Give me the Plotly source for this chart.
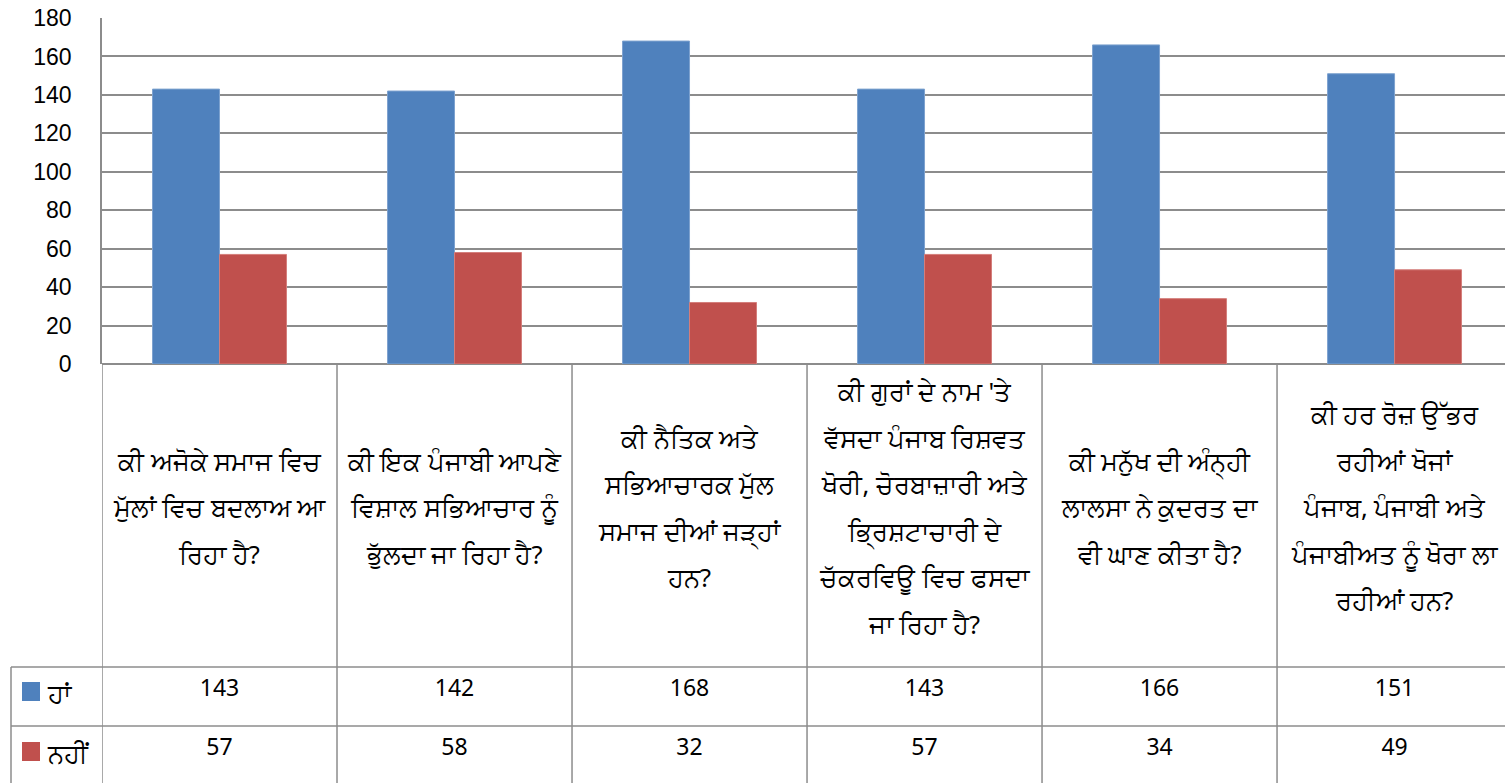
import plotly.graph_objects as go

# ── Data ──────────────────────────────────────────────────────────────────────
QUESTIONS = [
    "ਕੀ ਅਜੋਕੇ ਸਮਾਜ ਵਿਚ<br>ਮੁੱਲਾਂ ਵਿਚ ਬਦਲਾਅ ਆ<br>ਰਿਹਾ ਹੈ?",
    "ਕੀ ਇਕ ਪੰਜਾਬੀ ਆਪਣੇ<br>ਵਿਸ਼ਾਲ ਸਭਿਆਚਾਰ ਨੂੰ<br>ਭੁੱਲਦਾ ਜਾ ਰਿਹਾ ਹੈ?",
    "ਕੀ ਨੈਤਿਕ ਅਤੇ<br>ਸਭਿਆਚਾਰਕ ਮੁੱਲ<br>ਸਮਾਜ ਦੀਆਂ ਜੜ੍ਹਾਂ<br>ਹਨ?",
    "ਕੀ ਗੁਰਾਂ ਦੇ ਨਾਮ 'ਤੇ<br>ਵੱਸਦਾ ਪੰਜਾਬ ਰਿਸ਼ਵਤ<br>ਖੋਰੀ, ਚੋਰਬਾਜ਼ਾਰੀ ਅਤੇ<br>ਭ੍ਰਿਸ਼ਟਾਚਾਰੀ ਦੇ<br>ਚੱਕਰਵਿਊ ਵਿਚ ਫਸਦਾ<br>ਜਾ ਰਿਹਾ ਹੈ?",
    "ਕੀ ਮਨੁੱਖ ਦੀ ਅੰਨ੍ਹੀ<br>ਲਾਲਸਾ ਨੇ ਕੁਦਰਤ ਦਾ<br>ਵੀ ਘਾਣ ਕੀਤਾ ਹੈ?",
    "ਕੀ ਹਰ ਰੋਜ਼ ਉੱਭਰ<br>ਰਹੀਆਂ ਖੋਜਾਂ<br>ਪੰਜਾਬ, ਪੰਜਾਬੀ ਅਤੇ<br>ਪੰਜਾਬੀਅਤ ਨੂੰ ਖੋਰਾ ਲਾ<br>ਰਹੀਆਂ ਹਨ?",
]
SERIES_NAMES = ["ਹਾਂ", "ਨਹੀਂ"]
YES_VALUES = [143, 142, 168, 143, 166, 151]
NO_VALUES = [57, 58, 32, 57, 34, 49]
Y_TICKS = [0, 20, 40, 60, 80, 100, 120, 140, 160, 180]

# ── Style ─────────────────────────────────────────────────────────────────────
BLUE = "#4F81BD"
RED = "#C0504D"
GRID = "#8C8C8C"
FONT = "Noto Sans, Arial, sans-serif"

W, H = 1505, 783
PLOT_LEFT, PLOT_TOP = 102, 18
PLOT_W = W - PLOT_LEFT
PLOT_H = H - PLOT_TOP
TABLE_TOP = 364          # pixel row of the value axis zero / table top
ROW_LINES = (667, 726)   # pixel rows of the table's horizontal rules
ROW_TEXT = (690, 749)    # pixel rows of the value rows' text
HEADER_MID, HEADER_STEP = 511, 46.5


def py(y_px):
    """Pixel row -> paper y (plot area relative)."""
    return (H - y_px) / PLOT_H


def px(x_px):
    """Pixel column -> paper x (plot area relative)."""
    return (x_px - PLOT_LEFT) / PLOT_W


idx = list(range(len(QUESTIONS)))
fig = go.Figure()
fig.add_trace(go.Bar(x=idx, y=YES_VALUES, name=SERIES_NAMES[0], marker_color=BLUE,
                     marker_line=dict(color="#7DA2CF", width=1)))
fig.add_trace(go.Bar(x=idx, y=NO_VALUES, name=SERIES_NAMES[1], marker_color=RED,
                     marker_line=dict(color="#D47E7B", width=1)))

# header text: one text point per wrapped line, on a pixel-scaled axis
hx, hy, ht = [], [], []
for i, q in enumerate(QUESTIONS):
    lines = q.split("<br>")
    n = len(lines)
    for k, txt in enumerate(lines):
        hx.append(i)
        hy.append(HEADER_MID + (k - (n - 1) / 2) * HEADER_STEP)
        ht.append(txt)
fig.add_trace(go.Scatter(x=hx, y=hy, text=ht, mode="text", yaxis="y2",
                         textposition="middle center", hoverinfo="skip",
                         textfont=dict(size=25.5, color="black", family=FONT)))

# value rows
for vals, y_px in zip((YES_VALUES, NO_VALUES), ROW_TEXT):
    fig.add_trace(go.Scatter(x=idx, y=[y_px] * len(vals), text=[str(v) for v in vals],
                             mode="text", yaxis="y2", textposition="middle center",
                             hoverinfo="skip",
                             textfont=dict(size=23, color="black", family=FONT)))

shapes = []
annotations = []
line = dict(color=GRID, width=1.5)

for i in range(len(QUESTIONS) + 1):
    shapes.append(dict(type="line", xref="x", yref="paper",
                       x0=i - 0.5, x1=i - 0.5, y0=0, y1=py(TABLE_TOP), line=line))
for y_px in ROW_LINES:
    shapes.append(dict(type="line", xref="paper", yref="paper",
                       x0=px(11), x1=1, y0=py(y_px), y1=py(y_px), line=line))
shapes.append(dict(type="line", xref="paper", yref="paper",
                   x0=px(11), x1=px(11), y0=0, y1=py(ROW_LINES[0]), line=line))

# legend keys in the table
for name, color, y_px in zip(SERIES_NAMES, (BLUE, RED), (691, 751)):
    shapes.append(dict(type="rect", xref="paper", yref="paper",
                       x0=px(22), x1=px(40), y0=py(y_px + 10), y1=py(y_px - 9),
                       fillcolor=color, line=dict(width=0)))
    annotations.append(dict(x=px(45), y=py(y_px + 2), xref="paper", yref="paper",
                            xanchor="left", yanchor="middle",
                            text=name, showarrow=False,
                            font=dict(size=26, color="black", family=FONT)))

fig.update_layout(
    width=W, height=H,
    margin=dict(l=PLOT_LEFT, r=0, t=PLOT_TOP, b=0),
    paper_bgcolor="white", plot_bgcolor="white",
    showlegend=False,
    barmode="group", bargap=0.43, bargroupgap=0,
    shapes=shapes, annotations=annotations,
    font=dict(family=FONT, color="black"),
    xaxis=dict(range=[-0.5, 5.47], showticklabels=False, showgrid=False,
               zeroline=False, showline=False, fixedrange=True, automargin=False),
    yaxis=dict(domain=[py(TABLE_TOP), 1], range=[0, 180], tickvals=Y_TICKS,
               showgrid=True, gridcolor=GRID, gridwidth=1.5,
               showline=True, linecolor=GRID, linewidth=1.5,
               zeroline=True, zerolinecolor=GRID, zerolinewidth=1.5,
               ticks="", ticklabelstandoff=24, automargin=False,
               ticklabeloverflow="allow",
               tickfont=dict(family="Liberation Sans, Arial", size=23, color="black")),
    yaxis2=dict(domain=[0, py(TABLE_TOP)], range=[H, TABLE_TOP], anchor="x",
                visible=False, showgrid=False, zeroline=False, automargin=False),
)

# drop the page's default body margin so the figure sits at the window's corner
fig.write_html("out.html", config={"displayModeBar": False},
               post_script="document.body.style.margin='0';document.body.style.overflow='hidden';")
